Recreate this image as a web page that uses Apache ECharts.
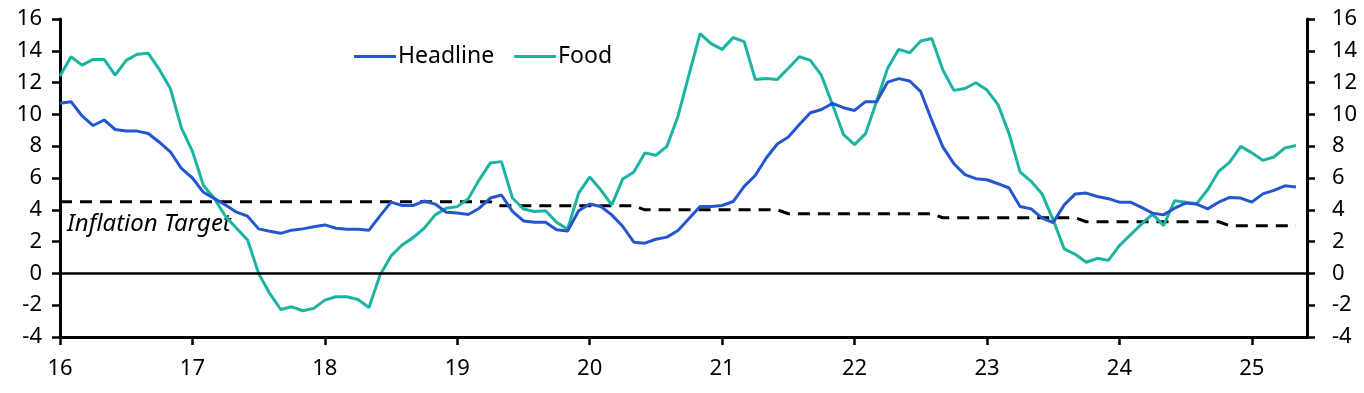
<!DOCTYPE html>
<html>
<head>
<meta charset="utf-8">
<script src="https://cdn.jsdelivr.net/npm/echarts@6/dist/echarts.min.js"></script>
<style>
html,body{margin:0;padding:0;background:#fff;}
#c{width:1364px;height:393px;}
</style>
</head>
<body>
<div id="c"></div>
<script>
// Monthly observations, Jan 2016 (index 0) to May 2025 (index 112)
var startYear = 16;
var yearTicks = ['16','17','18','19','20','21','22','23','24','25'];
var headline = [
10.7,10.8,9.9,9.3,9.65,9.05,8.95,8.95,8.8,8.25,7.65,6.6,
6.0,5.1,4.7,4.3,3.85,3.6,2.8,2.65,2.52,2.72,2.8,2.93,
3.05,2.84,2.78,2.78,2.72,3.62,4.48,4.27,4.27,4.55,4.36,3.85,
3.8,3.7,4.1,4.74,4.93,3.9,3.3,3.22,3.22,2.74,2.67,3.94,
4.36,4.21,3.68,2.95,1.96,1.9,2.15,2.28,2.7,3.45,4.21,4.21,
4.27,4.52,5.47,6.16,7.26,8.14,8.58,9.36,10.1,10.31,10.69,10.42,
10.25,10.8,10.8,12.03,12.25,12.1,11.43,9.62,7.96,6.9,6.21,5.96,
5.89,5.64,5.37,4.21,4.06,3.47,3.2,4.31,5.0,5.05,4.84,4.7,
4.48,4.48,4.15,3.79,3.68,4.1,4.42,4.36,4.06,4.48,4.78,4.74,
4.48,5.0,5.22,5.51,5.43
];
var food = [
12.41,13.63,13.1,13.46,13.46,12.47,13.4,13.78,13.84,12.83,11.63,9.15,
7.68,5.53,4.69,3.58,2.84,2.1,0.0,-1.26,-2.27,-2.1,-2.35,-2.2,
-1.68,-1.47,-1.47,-1.64,-2.14,-0.1,1.1,1.79,2.25,2.84,3.68,4.1,
4.2,4.69,5.9,6.95,7.03,4.74,4.05,3.89,3.94,3.22,2.78,5.05,
6.06,5.26,4.31,5.94,6.38,7.58,7.43,7.99,9.89,12.5,15.08,14.45,
14.09,14.83,14.58,12.2,12.26,12.2,12.9,13.63,13.4,12.45,10.62,8.73,
8.1,8.79,10.83,12.9,14.09,13.88,14.62,14.77,12.79,11.51,11.63,11.99,
11.53,10.62,8.79,6.38,5.79,4.99,3.37,1.54,1.2,0.7,0.95,0.82,
1.75,2.42,3.1,3.73,3.01,4.57,4.48,4.38,5.26,6.42,7.0,7.99,
7.58,7.11,7.32,7.89,8.04
];
var target = [
4.5,4.5,4.5,4.5,4.5,4.5,4.5,4.5,4.5,4.5,4.5,4.5,
4.5,4.5,4.5,4.5,4.5,4.5,4.5,4.5,4.5,4.5,4.5,4.5,
4.5,4.5,4.5,4.5,4.5,4.5,4.5,4.5,4.5,4.5,4.5,4.5,
4.5,4.5,4.5,4.5,4.25,4.25,4.25,4.25,4.25,4.25,4.25,4.25,
4.25,4.25,4.25,4.25,4.25,4.0,4.0,4.0,4.0,4.0,4.0,4.0,
4.0,4.0,4.0,4.0,4.0,4.0,3.75,3.75,3.75,3.75,3.75,3.75,
3.75,3.75,3.75,3.75,3.75,3.75,3.75,3.75,3.5,3.5,3.5,3.5,
3.5,3.5,3.5,3.5,3.5,3.5,3.5,3.5,3.5,3.25,3.25,3.25,
3.25,3.25,3.25,3.25,3.25,3.25,3.25,3.25,3.25,3.25,3.0,3.0,
3.0,3.0,3.0,3.0,3.0
];
var yTicks = [-4,-2,0,2,4,6,8,10,12,14,16];

function pairs(arr){ return arr.map(function(v,i){ return [i,v]; }); }
var yearValues = yearTicks.map(function(t){ return (parseInt(t,10)-startYear)*12; });

var FONT = 'Noto Sans';
var chart = echarts.init(document.getElementById('c'), null, {renderer:'canvas'});
var yAxisBase = function(pos){
  return {
    type:'value', position:pos, min:yTicks[0], max:yTicks[yTicks.length-1], interval:2,
    axisLine:{show:true, onZero:false, lineStyle:{color:'#000', width:3}},
    axisTick:{show:true, inside:false, length:8, lineStyle:{color:'#000', width:2.5}},
    axisLabel:{color:'#000', fontFamily:FONT, fontSize:22, margin:pos==='left'?18:25},
    splitLine:{show:false}
  };
};
chart.setOption({
  animation:false,
  backgroundColor:'#fff',
  grid:{left:60, right:57, top:19, bottom:56, containLabel:false},
  legend:{
    left:349, top:40, icon:'rect', itemWidth:42, itemHeight:3, itemGap:20,
    textStyle:{color:'#000', fontFamily:FONT, fontSize:23, padding:[0,0,0,-3]},
    data:['Headline','Food']
  },
  xAxis:{
    type:'value', min:0, max:113,
    axisLine:{show:true, onZero:false, lineStyle:{color:'#000', width:3}},
    axisTick:{show:true, length:8, lineStyle:{color:'#000', width:2.5}, customValues:yearValues},
    axisLabel:{color:'#000', fontFamily:FONT, fontSize:22, margin:21, customValues:yearValues,
      formatter:function(v){ return yearTicks[Math.round(v/12)]; }},
    splitLine:{show:false}
  },
  yAxis:[yAxisBase('left'), yAxisBase('right')],
  graphic:[{
    type:'text', left:67, top:212,
    style:{text:'Inflation Target', fontFamily:FONT, fontSize:24, fontStyle:'italic', fill:'#000'}
  }],
  series:[
    {
      name:'Target', type:'line', data:pairs(target), symbol:'none', silent:true,
      lineStyle:{color:'#000', width:3, type:[12,8]}, z:2,
      markLine:{silent:true, symbol:'none', label:{show:false},
        lineStyle:{color:'#000', width:2.5, type:'solid'},
        data:[{yAxis:0}]}
    },
    {
      name:'Food', type:'line', data:pairs(food), symbol:'none',
      lineStyle:{color:'#1BB4A2', width:3}, itemStyle:{color:'#1BB4A2'}, z:3
    },
    {
      name:'Headline', type:'line', data:pairs(headline), symbol:'none',
      lineStyle:{color:'#2456D0', width:3}, itemStyle:{color:'#2456D0'}, z:4
    }
  ]
});
</script>
</body>
</html>
